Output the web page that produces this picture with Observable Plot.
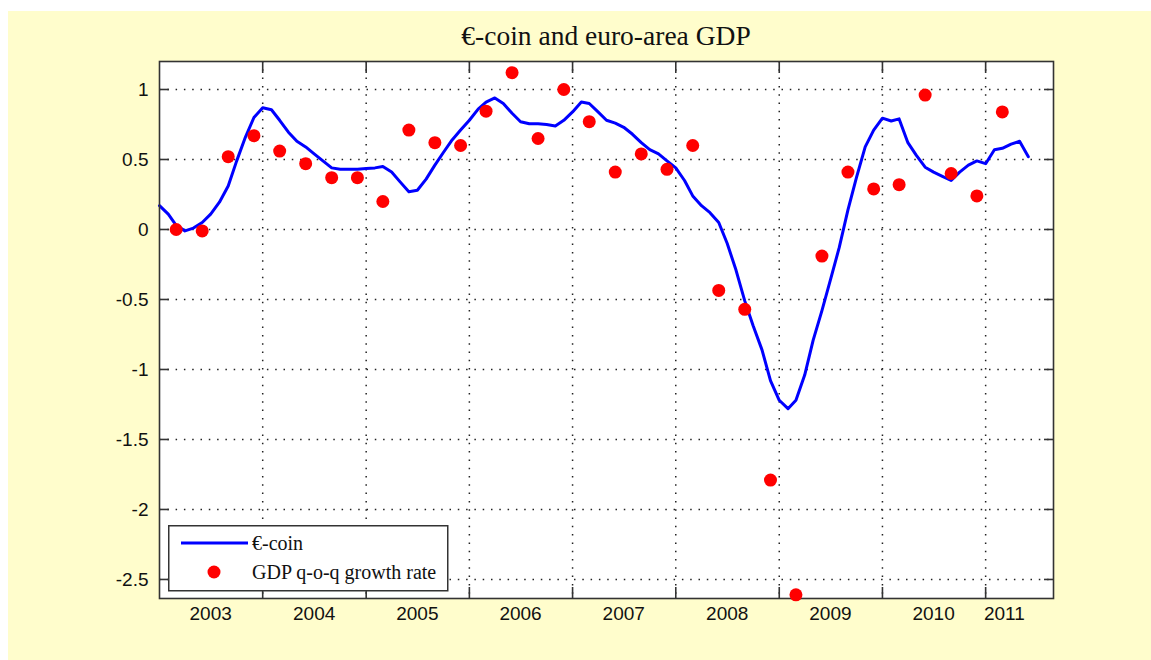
<!DOCTYPE html>
<html><head><meta charset="utf-8">
<script src="https://cdn.jsdelivr.net/npm/d3@7"></script>
<script src="https://cdn.jsdelivr.net/npm/@observablehq/plot@0.6"></script>
<style>
html,body{margin:0;padding:0;background:#fff;width:1151px;height:660px;overflow:hidden;}
#fig{position:absolute;left:8px;top:11px;width:1143px;height:649px;background:#FFFDCC;}
#chart{position:absolute;left:0;top:0;}
#title{position:absolute;left:0;top:21px;width:1212px;text-align:center;font-family:"Liberation Serif",serif;font-size:27.5px;line-height:29px;color:#111;}
#legend{position:absolute;left:168px;top:525px;}
</style></head><body>
<div id="fig"></div>
<div id="chart"></div>
<div id="title">€-coin and euro-area GDP</div>
<svg id="legend" width="281" height="67">
  <rect x="0.75" y="0.75" width="279" height="65" fill="white" stroke="#333" stroke-width="1.5"></rect>
  <line x1="13" x2="80" y1="18" y2="18" stroke="#0000ff" stroke-width="3"></line>
  <circle cx="46" cy="47" r="6.5" fill="#ff0000"></circle>
  <text x="84" y="18" dominant-baseline="central" font-family="Liberation Serif" font-size="20" fill="#111">€-coin</text>
  <text x="84" y="47" dominant-baseline="central" font-family="Liberation Serif" font-size="20" fill="#111">GDP q-o-q growth rate</text>
</svg>
<script>
// €-coin, monthly, Jan 2003 – Jun 2011
const ecoin = [
  0.17, 0.11, 0.03, -0.01, 0.01, 0.05, 0.11, 0.195, 0.31, 0.49, 0.66, 0.80,
  0.87, 0.855, 0.78, 0.695, 0.63, 0.59, 0.54, 0.49, 0.44, 0.43, 0.43, 0.43,
  0.435, 0.44, 0.45, 0.41, 0.34, 0.27, 0.28, 0.36, 0.46, 0.55, 0.64, 0.71,
  0.78, 0.86, 0.91, 0.94, 0.90, 0.83, 0.77, 0.755, 0.755, 0.75, 0.74, 0.78,
  0.84, 0.91, 0.90, 0.84, 0.78, 0.76, 0.73, 0.68, 0.62, 0.57, 0.54, 0.49,
  0.44, 0.35, 0.24, 0.17, 0.12, 0.05, -0.10, -0.29, -0.51, -0.69, -0.86, -1.08,
  -1.22, -1.28, -1.22, -1.04, -0.79, -0.58, -0.36, -0.13, 0.14, 0.37, 0.59, 0.71,
  0.795, 0.775, 0.79, 0.62, 0.53, 0.445, 0.41, 0.38, 0.35, 0.41, 0.46, 0.49,
  0.47, 0.57, 0.58, 0.61, 0.63, 0.52
];
// GDP q-o-q growth rate, quarterly, 2003Q1 – 2011Q1
const gdp = [
  0.00, -0.01, 0.52, 0.67, 0.56, 0.47, 0.37, 0.37, 0.20, 0.71, 0.62, 0.60,
  0.845, 1.12, 0.65, 1.00, 0.77, 0.41, 0.54, 0.43, 0.60, -0.435, -0.57, -1.79,
  -2.61, -0.19, 0.41, 0.29, 0.32, 0.96, 0.40, 0.24, 0.84
];
const yTicks = [-2.5, -2, -1.5, -1, -0.5, 0, 0.5, 1];
const yTickLabels = ["-2.5", "-2", "-1.5", "-1", "-0.5", "0", "0.5", "1"];
const xLabels = ["2003", "2004", "2005", "2006", "2007", "2008", "2009", "2010", "2011"];
const xLabelDates = ["2003-07-01", "2004-07-01", "2005-07-01", "2006-07-01", "2007-07-01",
  "2008-07-01", "2009-07-01", "2010-07-01", "2011-03-08"].map(d => new Date(d));

const months = d3.utcMonth.range(new Date("2003-01-01"), new Date("2011-07-01"));
const gdpDates = d3.utcMonth.range(new Date("2003-03-01"), new Date("2011-04-01"), 3);
const yearTicks = d3.utcYear.range(new Date("2004-01-01"), new Date("2011-01-02"));

const grid = {stroke: "#222", strokeOpacity: 1, strokeWidth: 1.5, strokeDasharray: "1.5,6.8"};
const tickStyle = {stroke: "#333", strokeWidth: 1.6, tickFormat: () => ""};

const chart = Plot.plot({
  width: 1151, height: 660,
  marginLeft: 159, marginRight: 98, marginTop: 61, marginBottom: 62,
  style: {background: "transparent", fontFamily: "Liberation Sans", fontSize: "19px", color: "#111"},
  x: {type: "utc", domain: [new Date("2003-01-01"), new Date("2011-08-29")]},
  y: {domain: [-2.636, 1.2]},
  marks: [
    Plot.frame({fill: "white", stroke: null}),
    Plot.gridY(yTicks, grid),
    Plot.gridX(yearTicks, grid),
    Plot.axisY(yTicks, {anchor: "left", tickSize: 10, dx: 10, ...tickStyle}),
    Plot.axisY(yTicks, {anchor: "right", tickSize: 10, dx: -10, ...tickStyle}),
    Plot.axisX(yearTicks, {anchor: "bottom", tickSize: 11, dy: -11, ...tickStyle}),
    Plot.axisX(yearTicks, {anchor: "top", tickSize: 11, dy: 11, ...tickStyle}),
    Plot.text(yTickLabels, {y: (d, i) => yTicks[i], text: d => d, frameAnchor: "left", dx: -11, textAnchor: "end", fontSize: 19, fill: "#111"}),
    Plot.text(xLabels, {x: (d, i) => xLabelDates[i], text: d => d, frameAnchor: "bottom", dy: 21, fontSize: 19, fill: "#111"}),
    Plot.line(ecoin, {x: (d, i) => months[i], y: d => d, stroke: "#0000ff", strokeWidth: 3}),
    Plot.frame({stroke: "#333", strokeWidth: 1.6}),
    Plot.dot(gdp, {x: (d, i) => gdpDates[i], y: d => d, r: 6.5, fill: "#ff0000", stroke: null})
  ]
});
document.getElementById("chart").appendChild(chart);
</script>
</body></html>
